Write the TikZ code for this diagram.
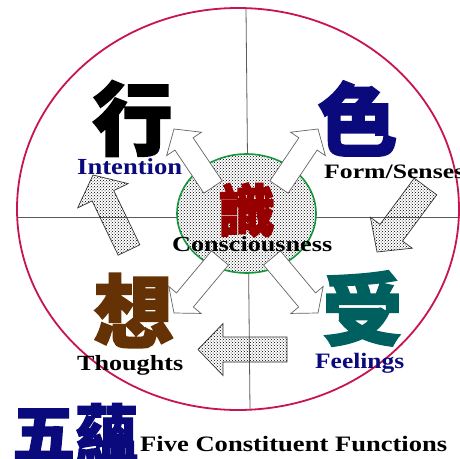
\documentclass[tikz,border=0pt]{standalone}
\usepackage{fontspec}
\usepackage{graphicx}
\setmainfont{Liberation Serif}
\newfontfamily\cjk{Noto Sans CJK TC}[BoldFeatures={FakeBold=2.2}]
\usetikzlibrary{calc,patterns}

\definecolor{rim}{RGB}{200,20,80}
\definecolor{rulec}{RGB}{90,90,90}
\definecolor{ring}{RGB}{20,150,60}
\definecolor{navyc}{RGB}{10,10,125}
\definecolor{brownc}{RGB}{100,50,5}
\definecolor{tealc}{RGB}{0,95,95}
\definecolor{redc}{RGB}{150,0,0}
\definecolor{outl}{RGB}{100,100,100}

% #1 style, #2 tail coordinate, #3 tip coordinate, #4 shaft half width, #5 head half width, #6 head length
\newcommand{\blockarrow}[6]{%
  \coordinate (tmpC) at ($(#3)!#6!(#2)$);
  \path[#1] ($(#2)!#4!90:(#3)$) -- ($(tmpC)!#4!-90:(#2)$) -- ($(tmpC)!#5!-90:(#2)$) -- (#3)
    -- ($(tmpC)!#5!90:(#2)$) -- ($(tmpC)!#4!90:(#2)$) -- ($(#2)!#4!-90:(#3)$) -- cycle;
}

\tikzset{
  lab/.style={inner sep=0pt, font=\bfseries},
  han/.style={inner sep=0pt},
  dotarrow/.style={draw=black!80, line width=0.7pt, pattern=crosshatch dots, pattern color=black},
  openarrow/.style={draw=outl, fill=white, line width=0.7pt},
}

\begin{document}
\begin{tikzpicture}[x=1pt,y=-1pt]
\path[use as bounding box, fill=white] (0,0) rectangle (460,458);

% quadrant lines
\draw[rulec, line width=0.8pt] (17,217) -- (462,217);
\draw[rulec, line width=0.8pt] (246,8) -- (250,410);

% outer ring
\draw[rim, line width=1.8pt] (238,209) ellipse [x radius=221pt, y radius=201pt];

% dotted cycle arrows
\coordinate (la) at (129,250); \coordinate (lb) at (93,175);
\coordinate (ra) at (425.5,186.5); \coordinate (rb) at (377,252);
\coordinate (ba) at (287,349.5); \coordinate (bb) at (198,349.5);
\blockarrow{dotarrow}{la}{lb}{12pt}{28pt}{23pt}
\blockarrow{dotarrow}{ra}{rb}{14pt}{26pt}{24pt}
\blockarrow{dotarrow}{ba}{bb}{12.5pt}{26pt}{25pt}

% centre
\path[draw=ring, line width=1.6pt, preaction={fill=white}, pattern=crosshatch dots, pattern color=black]
  (246.5,213.5) ellipse [x radius=69.5pt, y radius=59.5pt];

% open arrows from the centre
\coordinate (ula) at (213,187); \coordinate (ulb) at (174,129);
\coordinate (ura) at (279,187); \coordinate (urb) at (318,129);
\coordinate (dla) at (220,258); \coordinate (dlb) at (174,313);
\coordinate (dra) at (272,258); \coordinate (drb) at (318,313);
\blockarrow{openarrow}{ula}{ulb}{11pt}{21pt}{18pt}
\blockarrow{openarrow}{ura}{urb}{11pt}{21pt}{18pt}
\blockarrow{openarrow}{dla}{dlb}{11pt}{21pt}{17pt}
\blockarrow{openarrow}{dra}{drb}{11pt}{21pt}{17pt}

% Chinese characters
\node[han, text=redc, font=\cjk\bfseries\fontsize{57}{57}\selectfont] (shi) at (246.5,210) {識};
\node[han, text=black, font=\cjk\bfseries\fontsize{80}{80}\selectfont] (xing) at (132.5,118.5) {行};
\node[han, text=navyc, font=\cjk\bfseries\fontsize{80}{80}\selectfont] (se) at (357.5,118.5) {色};
\node[han, text=brownc, font=\cjk\bfseries\fontsize{80}{80}\selectfont] (xiang) at (133.5,310.5) {想};
\node[han, text=tealc, font=\cjk\bfseries\fontsize{80}{80}\selectfont] (shou) at (362.5,308.5) {受};
\node[han, text=navyc, font=\cjk\bfseries\fontsize{63}{63}\selectfont, anchor=north west] (wuyun) at (12,403) {五蘊};

% English labels
\node[lab, text=black, anchor=base west] (consc) at (172,251)
  {\fontsize{21.5}{22}\selectfont\resizebox{160pt}{\height}{Consciousness}};
\node[lab, text=navyc, anchor=base west] (intent) at (77,174)
  {\fontsize{23}{23}\selectfont\resizebox{105pt}{\height}{Intention}};
\node[lab, text=black, anchor=base west] (form) at (324,178)
  {\fontsize{20.5}{21}\selectfont\resizebox{140pt}{\height}{Form/Senses}};
\node[lab, text=black, anchor=base west] (thought) at (77,370.5)
  {\fontsize{21.7}{22}\selectfont\resizebox{106pt}{\height}{Thoughts}};
\node[lab, text=navyc, anchor=base west] (feel) at (315,368.5)
  {\fontsize{22}{22}\selectfont\resizebox{89pt}{\height}{Feelings}};
\node[lab, text=black, anchor=base west] (five) at (140,451.5)
  {\fontsize{22}{22}\selectfont\resizebox{307pt}{\height}{Five Constituent Functions}};
\end{tikzpicture}
\end{document}
